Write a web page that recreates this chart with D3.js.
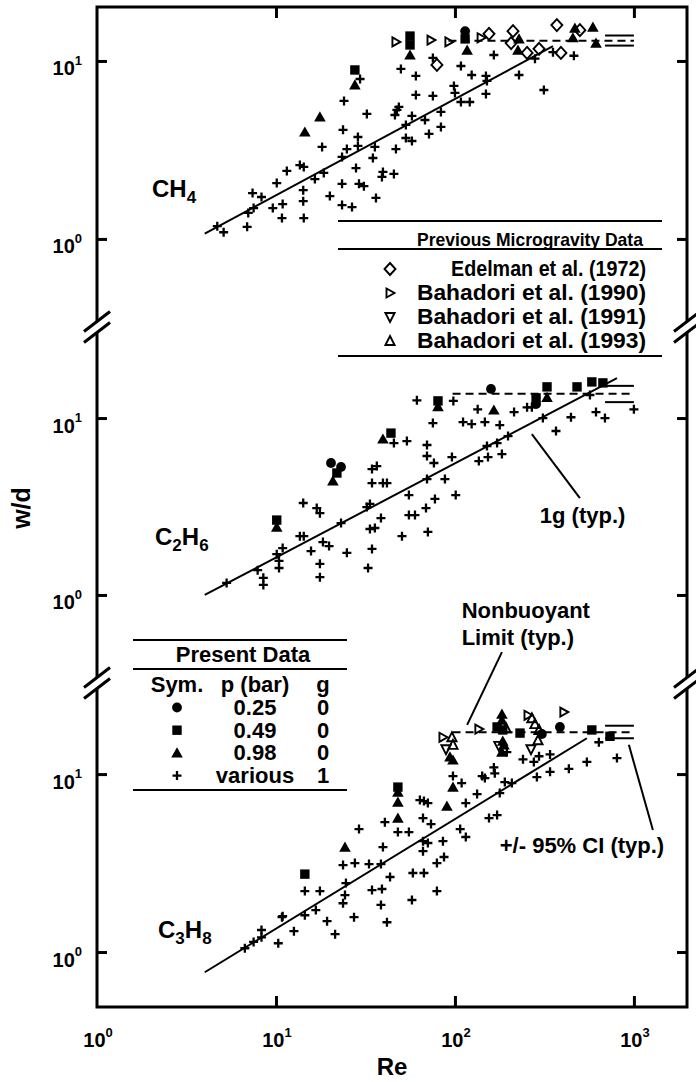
<!DOCTYPE html>
<html>
<head>
<meta charset="utf-8">
<script src="https://cdn.jsdelivr.net/npm/d3@7"></script>
<style>
  body { margin: 0; background: #fff; }
  svg { display: block; }
  svg text { font-family: "Liberation Sans", Arial, Helvetica, sans-serif; font-weight: bold; fill: #000; }
  svg text.narrow { font-family: "Liberation Sans Narrow", "Arial Narrow", "Liberation Sans", Arial, sans-serif; }
</style>
</head>
<body>
<div id="chart"></div>
<script>
// ---- data: [Re, w/d] ----

// CH4
var ch4Plus = [[4.7,1.18],[5.1,1.09],[6.9,1.17],[7.0,1.40],[7.4,1.81],[7.5,1.49],[8.3,1.72],[9.6,1.49],[10.9,1.57],[10.8,1.31],[10.1,2.06],[11.5,2.41],[13.6,2.60],[14.3,2.54],[14.2,1.88],[14.2,1.63],[14.3,1.31],[16.5,2.17],[18.5,2.35],[18.1,3.29],[20.0,1.74],[23.4,2.89],[23.4,2.04],[23.4,1.55],[26.6,1.51],[24.9,3.20],[23.7,4.10],[24.0,5.96],[28.0,2.50],[28.7,3.33],[28.7,3.74],[29.1,2.04],[31.0,1.98],[32.2,5.04],[34.8,2.85],[35.7,3.29],[36.2,1.70],[39.1,2.23],[39.6,2.38],[45.6,2.32],[46.8,3.20],[46.2,4.97],[47.4,5.31],[48.6,5.52],[49.9,9.02],[53.2,3.69],[53.2,4.37],[57.5,3.55],[57.5,4.91],[60.5,8.24],[60.5,6.44],[68.0,4.66],[71.6,3.89],[29.5,7.92],[75.3,10.4],[83.5,4.26],[83.5,5.17],[75.3,6.36],[98.7,7.24],[100,6.61],[108,9.37],[108,5.88],[121,5.88],[124,8.34],[149,8.24],[151,7.72],[149,6.53],[165,10.8],[228,8.34],[280,10.3],[314,6.87],[353,11.2],[462,10.7]];
var ch4Tri = [[14.5,3.99],[17.6,4.85],[27.6,7.33],[56.1,10.8],[117,11.5],[228,13.3],[225,11.5],[468,15.3],[456,13.5],[590,15.5],[614,12.6]];
var ch4Sq = [[27.6,8.90],[56.1,13.8],[56.1,12.3],[114,13.3]];
var ch4Circ = [[114,14.7]];
var ch4Edelman = [[79.3,9.50],[155,14.2],[211,14.7],[206,12.6],[253,11.1],[295,11.7],[371,15.9],[499,14.9],[391,11.1]];
var ch4Bah1990 = [[46.8,12.8],[73.5,13.1],[92.5,12.8],[140,13.5]];
var ch4Fit = [[4,1.07],[353,12.1]];
var ch4Limit = 13.0;
var ch4CI = [12.2, 13.9];

// C2H6
var c2h6Plus = [[5.3,1.17],[7.9,1.38],[8.5,1.25],[8.5,1.14],[10.1,1.70],[10.9,1.84],[10.4,1.56],[10.4,1.42],[13.6,2.15],[14.3,2.15],[14.2,3.31],[15.7,1.77],[16.9,3.10],[17.6,2.90],[17.6,1.50],[17.6,1.26],[18.3,1.99],[19.8,1.89],[23.1,2.55],[24.9,1.73],[32.2,3.14],[33.5,3.27],[34.4,5.15],[36.6,5.35],[34.4,4.29],[39.6,4.29],[41.7,4.29],[38.6,2.72],[33.5,2.36],[35.7,2.39],[34.4,1.82],[32.7,1.42],[45.6,7.22],[53.9,7.41],[61.3,12.6],[69.8,7.04],[69.8,6.10],[55.3,3.67],[55.3,2.83],[59.8,2.83],[50.6,2.15],[68.9,3.10],[70.6,2.27],[69.8,4.52],[98,12.5],[75.3,9.37],[76.3,5.57],[96.2,6.02],[87.9,4.52],[77.3,3.49],[101,3.67],[111,9.49],[124,9.25],[134,11.2],[147,9.49],[178,9.13],[214,10.8],[253,11.5],[269,11.5],[151,6.95],[172,7.22],[136,5.71],[153,6.02],[183,6.26],[198,7.91],[310,10.0],[367,8.45],[445,10.1],[568,13.5],[614,10.8],[689,10.0],[1000,11.2]];
var c2h6Sq = [[10.1,2.65],[21.9,4.89],[43.9,8.22],[80.4,12.5],[327,15.0],[284,13.0],[481,15.0],[582,16.0],[671,15.8]];
var c2h6Tri = [[10.1,2.42],[20.8,4.41],[39.6,7.61],[80.4,11.6],[165,11.1],[327,13.1]];
var c2h6Circ = [[20.3,5.57],[23.1,5.29],[159,14.6],[284,12.0]];
var c2h6Fit = [[4,1.0],[804,16.8]];
var c2h6Limit = 13.7;
var c2h6CI = [12.3, 15.2];

// C3H8
var c3h8Plus = [[6.7,1.05],[7.5,1.14],[8.3,1.33],[8.3,1.21],[10.3,1.12],[10.8,1.57],[10.9,1.59],[12.6,1.31],[14.5,2.20],[14.5,1.61],[17.6,2.20],[16.7,1.72],[19.3,1.49],[21.4,1.26],[23.7,3.08],[27.6,3.16],[33.1,3.12],[38.6,3.12],[24.6,2.44],[24.3,2.09],[23.7,1.88],[27.3,1.57],[29.1,4.91],[34.4,2.23],[39.1,2.26],[38.6,1.84],[41.7,1.47],[39.6,3.89],[43.4,2.64],[40.6,5.37],[48.0,4.72],[55.3,4.72],[57.5,1.96],[58.2,2.78],[67.1,2.78],[66.3,3.69],[66.3,5.66],[63.7,7.14],[67.1,7.05],[70.6,6.87],[73.5,5.24],[79.3,2.20],[79.3,3.16],[86.9,3.42],[66.3,4.20],[70.6,4.10],[85.7,4.20],[107,4.91],[115,6.87],[97.5,9.75],[109,8.90],[133,7.72],[142,9.75],[147,9.50],[165,10.9],[167,10.1],[178,7.82],[190,9.02],[208,8.90],[155,5.66],[172,5.88],[115,4.43],[240,12.1],[276,11.7],[295,12.6],[340,12.9],[287,9.62],[340,10.3],[433,10.7],[546,11.7],[637,15.1],[804,12.3],[195,13.3]];
var c3h8Sq = [[14.5,2.74],[48.0,8.45],[172,18.4],[185,17.7],[231,17.0],[582,17.7],[735,16.3]];
var c3h8Tri = [[24.3,3.89],[48.0,7.92],[48.0,6.96],[48.0,5.66],[97.5,8.45],[90.2,6.61],[93.8,12.5],[97.5,12.0],[183,21.7],[183,20.1],[185,15.3],[188,14.6],[183,13.3]];
var c3h8Circ = [[306,16.8],[386,18.4]];
var c3h8Bah1990 = [[85.7,16.1],[136,17.9],[256,21.4],[406,22.3]];
var c3h8Bah1991 = [[89.1,13.8],[176,14.4],[266,13.8]];
var c3h8Bah1993 = [[96.2,16.1],[97.5,14.6],[193,18.1],[269,20.6],[280,19.1],[295,17.7],[291,15.5]];
var c3h8Fit = [[4,0.77],[546,15.9]];
var c3h8Limit = 17.2;
var c3h8CI = [15.9, 18.7];

// shared
var limitRe = [[92,1000],[97,1000],[97,1000]];
var ciRe = [690, 1000];
var xTickValues = [1, 10, 100, 1000];
var yTickValues = [1, 10];

// ---- layout ----
var svgWidth = 696;
var svgHeight = 1082;
var margin = {top: 7, right: 9, bottom: 75, left: 97};
var chartWidth = svgWidth - margin.left - margin.right;
var chartHeight = svgHeight - margin.top - margin.bottom;

var svg = d3.select("#chart").append("svg")
  .attr("width", svgWidth)
  .attr("height", svgHeight);

var chartGroup = svg.append("g")
  .attr("transform", `translate(${margin.left}, ${margin.top})`);

var x = d3.scaleLog().domain([1, 1980]).range([0, chartWidth]);

// three stacked panels, each its own log axis
var panels = [
  {label: ["CH", "4"], top: 0, bottom: 320, domain: [0.32, 20.1], labelPos: [55, 190],
   fit: ch4Fit, limit: ch4Limit, ci: ch4CI, limitRe: limitRe[0],
   series: [
     {data: ch4Plus, shape: "plus"}, {data: ch4Tri, shape: "triangle"}, {data: ch4Sq, shape: "square"},
     {data: ch4Circ, shape: "circle"}, {data: ch4Edelman, shape: "diamond"}, {data: ch4Bah1990, shape: "right"}]},
  {label: ["C", "2", "H", "6"], top: 320, bottom: 676, domain: [0.318, 32.7], labelPos: [58, 538],
   fit: c2h6Fit, limit: c2h6Limit, ci: c2h6CI, limitRe: limitRe[1],
   series: [
     {data: c2h6Plus, shape: "plus"}, {data: c2h6Sq, shape: "square"}, {data: c2h6Tri, shape: "triangle"},
     {data: c2h6Circ, shape: "circle"}]},
  {label: ["C", "3", "H", "8"], top: 676, bottom: 1000, domain: [0.491, 32.5], labelPos: [61, 931],
   fit: c3h8Fit, limit: c3h8Limit, ci: c3h8CI, limitRe: limitRe[2],
   series: [
     {data: c3h8Plus, shape: "plus"}, {data: c3h8Sq, shape: "square"}, {data: c3h8Tri, shape: "triangle"},
     {data: c3h8Circ, shape: "circle"}, {data: c3h8Bah1990, shape: "right"}, {data: c3h8Bah1991, shape: "down"},
     {data: c3h8Bah1993, shape: "up"}]}
];

var shapes = {
  plus: "M-4.5,0H4.5M0,-4.5V4.5",
  square: "M-4.7,-4.7H4.7V4.7H-4.7Z",
  triangle: "M0,-5.6L5.8,4.6H-5.8Z",
  circle: d3.symbol(d3.symbolCircle).size(Math.PI * 4.9 * 4.9)(),
  diamond: "M0,-6L5.5,0L0,6L-5.5,0Z",
  right: "M-3.5,-4.5L4.5,0L-3.5,4.5Z",
  up: "M0,-5L4.6,4H-4.6Z",
  down: "M0,5L4.6,-4H-4.6Z"
};
var openShapes = ["diamond", "right", "up", "down"];

function styleMark(sel, shape) {
  if (shape === "plus") {
    sel.attr("fill", "none").attr("stroke", "#000").attr("stroke-width", 2.3);
  } else if (openShapes.indexOf(shape) >= 0) {
    sel.attr("fill", "none").attr("stroke", "#000").attr("stroke-width", 1.9);
  } else {
    sel.attr("fill", "#000").attr("stroke", "none");
  }
}

// frame
chartGroup.append("rect")
  .attr("width", chartWidth)
  .attr("height", chartHeight)
  .attr("fill", "none")
  .attr("stroke", "#000")
  .attr("stroke-width", 3);

// x ticks, inside, top and bottom
var topAxis = chartGroup.append("g")
  .call(d3.axisTop(x).tickValues(xTickValues.slice(1)).tickSize(-11).tickFormat(""));
var bottomAxis = chartGroup.append("g")
  .attr("transform", `translate(0, ${chartHeight})`)
  .call(d3.axisBottom(x).tickValues(xTickValues.slice(1)).tickSize(-11).tickFormat(""));
[topAxis, bottomAxis].forEach(function(a) {
  a.select(".domain").remove();
  a.selectAll("line").attr("stroke-width", 3);
});

// power-of-ten label with superscript
function powLabel(g, px, py, value, anchor) {
  var t = g.append("text")
    .attr("x", px)
    .attr("y", py)
    .attr("text-anchor", anchor);
  t.append("tspan").attr("font-size", 20).text("10");
  t.append("tspan").attr("font-size", 13).attr("dy", -10.5).text(Math.round(Math.log10(value)));
}

xTickValues.forEach(function(v) {
  powLabel(chartGroup, x(v) + 1, chartHeight + 40, v, "middle");
});

chartGroup.append("text")
  .attr("x", chartWidth / 2)
  .attr("y", chartHeight + 68)
  .attr("text-anchor", "middle")
  .attr("font-size", 24)
  .text("Re");

chartGroup.append("text")
  .attr("transform", `translate(-67, ${chartHeight / 2 + 1}) rotate(-90)`)
  .attr("text-anchor", "middle")
  .attr("font-size", 25)
  .text("w/d");

panels.forEach(function(p) {
  var y = d3.scaleLog().domain(p.domain).range([p.bottom, p.top]);
  p.y = y;

  var left = chartGroup.append("g")
    .call(d3.axisLeft(y).tickValues(yTickValues).tickSize(-10).tickFormat(""));
  var right = chartGroup.append("g")
    .attr("transform", `translate(${chartWidth}, 0)`)
    .call(d3.axisRight(y).tickValues(yTickValues).tickSize(-10).tickFormat(""));
  [left, right].forEach(function(a) {
    a.select(".domain").remove();
    a.selectAll("line").attr("stroke-width", 3);
  });

  yTickValues.forEach(function(v) {
    powLabel(chartGroup, -15, y(v) + 14.5, v, "end");
  });

  // species label
  var lab = chartGroup.append("text")
    .attr("x", p.labelPos[0])
    .attr("y", p.labelPos[1])
    .attr("font-size", 24);
  p.label.forEach(function(s, i) {
    var sub = i % 2 === 1;
    lab.append("tspan")
      .attr("font-size", sub ? 17 : 24)
      .attr("dy", i === 0 ? 0 : (sub ? 6 : -6))
      .text(s);
  });

  // markers
  p.series.forEach(function(s) {
    var marks = chartGroup.append("g").selectAll("path")
      .data(s.data)
      .enter()
      .append("path")
      .attr("d", shapes[s.shape])
      .attr("transform", d => `translate(${x(d[0])}, ${y(d[1])})`);
    styleMark(marks, s.shape);
  });

  // 1g correlation
  chartGroup.append("path")
    .datum(p.fit)
    .attr("d", d3.line().x(d => x(d[0])).y(d => y(d[1])))
    .attr("fill", "none")
    .attr("stroke", "#000")
    .attr("stroke-width", 2);

  // nonbuoyant limit
  chartGroup.append("line")
    .attr("x1", x(p.limitRe[0])).attr("x2", x(p.limitRe[1]))
    .attr("y1", y(p.limit)).attr("y2", y(p.limit))
    .attr("stroke", "#000")
    .attr("stroke-width", 2)
    .attr("stroke-dasharray", "8,5");

  // +/- 95% CI
  p.ci.forEach(function(c) {
    chartGroup.append("line")
      .attr("x1", x(ciRe[0])).attr("x2", x(ciRe[1]))
      .attr("y1", y(c)).attr("y2", y(c))
      .attr("stroke", "#000")
      .attr("stroke-width", 2);
  });
});

// axis breaks
[panels[0].bottom, panels[1].bottom].forEach(function(yb) {
  [0, chartWidth].forEach(function(bx) {
    chartGroup.append("rect")
      .attr("x", bx - 3).attr("y", yb - 5)
      .attr("width", 6).attr("height", 10)
      .attr("fill", "#fff");
    [-5.5, 5.5].forEach(function(o) {
      chartGroup.append("line")
        .attr("x1", bx - 13).attr("y1", yb + o + 10)
        .attr("x2", bx + 13).attr("y2", yb + o - 10)
        .attr("stroke", "#000")
        .attr("stroke-width", 3);
    });
  });
});

// ---- legend: previous microgravity data ----
var prevLegend = [
  {shape: "diamond", text: "Edelman et al. (1972)", len: 195},
  {shape: "right", text: "Bahadori et al. (1990)", len: 229},
  {shape: "down", text: "Bahadori et al. (1991)", len: 229},
  {shape: "up", text: "Bahadori et al. (1993)", len: 229}
];
var pl = chartGroup.append("g");
[214, 242, 349].forEach(function(ly) {
  pl.append("line").attr("x1", 241).attr("x2", 565).attr("y1", ly).attr("y2", ly)
    .attr("stroke", "#000").attr("stroke-width", 2);
});
// header is set in a condensed face in the original
var header = pl.append("text")
  .attr("class", "narrow")
  .attr("x", 433).attr("y", 239)
  .attr("text-anchor", "middle")
  .attr("font-size", 22)
  .text("Previous Microgravity Data");
var headerLen = header.node().getComputedTextLength();
if (headerLen > 232) {
  header.attr("font-size", 22 * 226 / headerLen);
}
prevLegend.forEach(function(d, i) {
  var by = 269 + i * 24;
  var m = pl.append("path")
    .attr("d", shapes[d.shape])
    .attr("transform", `translate(293, ${by - 7})`);
  styleMark(m, d.shape);
  pl.append("text")
    .attr("x", 549).attr("y", by)
    .attr("text-anchor", "end")
    .attr("font-size", 22)
    .attr("textLength", d.len)
    .attr("lengthAdjust", "spacingAndGlyphs")
    .text(d.text);
});

// ---- legend: present data ----
var presentLegend = [
  {shape: "circle", p: "0.25", g: "0"},
  {shape: "square", p: "0.49", g: "0"},
  {shape: "triangle", p: "0.98", g: "0"},
  {shape: "plus", p: "various", g: "1"}
];
var cols = [80, 158, 226];
var pd = chartGroup.append("g");
[633, 662, 783].forEach(function(ly) {
  pd.append("line").attr("x1", 36).attr("x2", 250).attr("y1", ly).attr("y2", ly)
    .attr("stroke", "#000").attr("stroke-width", 2);
});
pd.append("text").attr("x", 146).attr("y", 655).attr("text-anchor", "middle")
  .attr("font-size", 22).text("Present Data");
["Sym.", "p (bar)", "g"].forEach(function(h, i) {
  pd.append("text").attr("x", cols[i]).attr("y", 685).attr("text-anchor", "middle")
    .attr("font-size", 22).text(h);
});
presentLegend.forEach(function(d, i) {
  var by = 708 + i * 22.7;
  var m = pd.append("path")
    .attr("d", shapes[d.shape])
    .attr("transform", `translate(${cols[0]}, ${by - 7.5})`);
  styleMark(m, d.shape);
  pd.append("text").attr("x", cols[1]).attr("y", by).attr("text-anchor", "middle")
    .attr("font-size", 22).text(d.p);
  pd.append("text").attr("x", cols[2]).attr("y", by).attr("text-anchor", "middle")
    .attr("font-size", 22).text(d.g);
});

// ---- annotations (anchored in data space of their panel) ----
var y2 = panels[1].y, y3 = panels[2].y;

chartGroup.append("line")
  .attr("x1", x(269)).attr("y1", y2(8.12))
  .attr("x2", x(499)).attr("y2", y2(3.53))
  .attr("stroke", "#000").attr("stroke-width", 2);
chartGroup.append("text")
  .attr("x", x(298)).attr("y", y2(2.55))
  .attr("font-size", 22)
  .text("1g (typ.)");

var nb = chartGroup.append("text")
  .attr("x", x(109)).attr("y", y3(75.2))
  .attr("font-size", 22);
nb.append("tspan").text("Nonbuoyant");
nb.append("tspan").attr("x", x(109)).attr("dy", 27).text("Limit (typ.)");
chartGroup.append("line")
  .attr("x1", x(183)).attr("y1", y3(48.5))
  .attr("x2", x(117)).attr("y2", y3(18.9))
  .attr("stroke", "#000").attr("stroke-width", 2);

chartGroup.append("line")
  .attr("x1", x(937)).attr("y1", y3(14.6))
  .attr("x2", x(1277)).attr("y2", y3(4.85))
  .attr("stroke", "#000").attr("stroke-width", 2);
chartGroup.append("text")
  .attr("x", x(178)).attr("y", y3(3.6))
  .attr("font-size", 22)
  .text("+/- 95% CI (typ.)");
</script>
</body>
</html>
